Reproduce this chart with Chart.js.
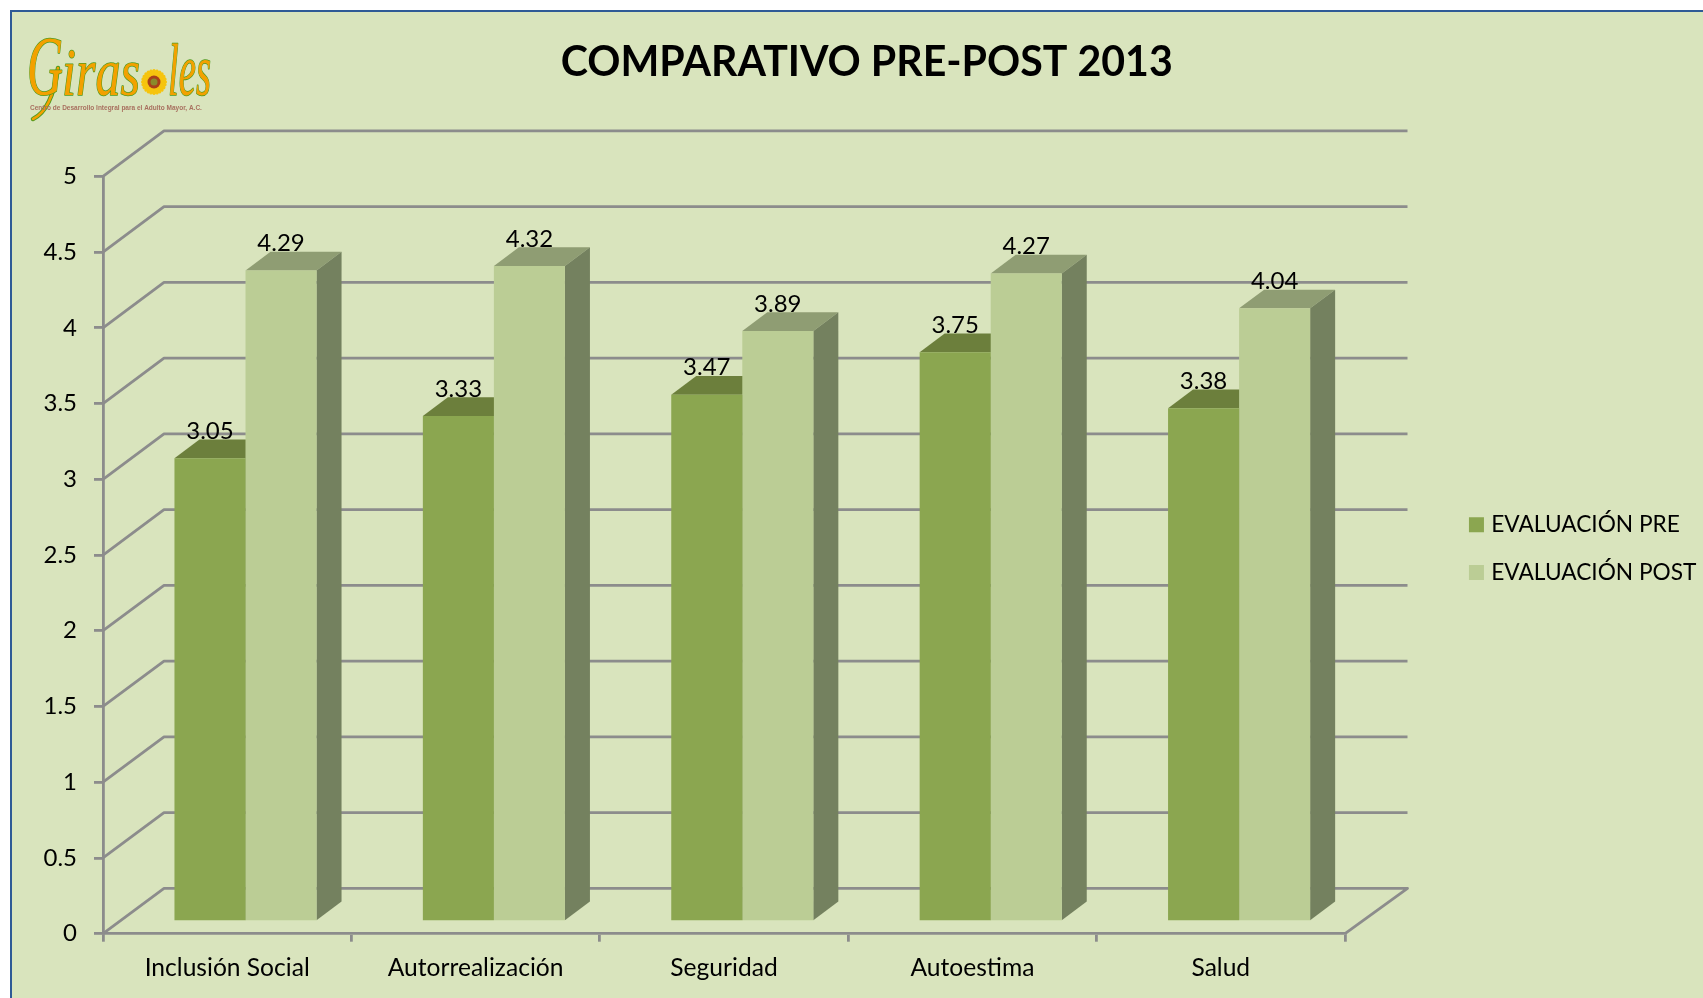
<!DOCTYPE html>
<html>
<head>
<meta charset="utf-8">
<title>Comparativo Pre-Post 2013</title>
<script src="https://cdn.jsdelivr.net/npm/chart.js@4"></script>
<style>
  html, body { margin: 0; padding: 0; background: #fff; overflow: hidden; }
  #frame { position: absolute; left: 10px; top: 10px; right: 0; bottom: 0; background: #d9e4bd; border-left: 2px solid #2f5a96; border-top: 2px solid #2f5a96; }
  #chart { position: absolute; left: 0; top: 0; }
</style>
</head>
<body>
<div id="frame"></div>
<canvas id="chart" width="1703" height="998"></canvas>
<script>
// Chart data
const categories = ['Inclusión Social', 'Autorrealización', 'Seguridad', 'Autoestima', 'Salud'];
const preValues = [3.05, 3.33, 3.47, 3.75, 3.38];
const postValues = [4.29, 4.32, 3.89, 4.27, 4.04];
const seriesNames = ['EVALUACIÓN PRE', 'EVALUACIÓN POST'];
const yTickValues = [0, 0.5, 1, 1.5, 2, 2.5, 3, 3.5, 4, 4.5, 5];

const FONT = 'Lato';
const GRID = '#8c8c8c';
const WALL_DX = 61, WALL_DY = -45.4;     // back wall depth
const BAR_DX = 18.3, BAR_DY = -13.4;     // bars stand inside the floor
const DEPTH_DX = 25, DEPTH_DY = -18.7;   // bar depth

// top and side colours for each series
const faces = [
  { top: '#6c7f3c', side: '#6c7f3c' },
  { top: '#8f9d73', side: '#74815f' }
];

function poly(ctx, pts, color) {
  ctx.fillStyle = color;
  ctx.beginPath();
  pts.forEach((p, i) => i ? ctx.lineTo(p[0], p[1]) : ctx.moveTo(p[0], p[1]));
  ctx.closePath();
  ctx.fill();
}

// Gridlines on the left wall and back wall, plus the floor
const wallsPlugin = {
  id: 'walls',
  beforeDatasetsDraw(chart) {
    const { ctx, chartArea: area, scales: { y } } = chart;
    ctx.save();
    ctx.strokeStyle = GRID;
    ctx.lineWidth = 2.8;
    ctx.lineJoin = 'round';
    yTickValues.forEach(v => {
      const py = y.getPixelForValue(v);
      ctx.beginPath();
      ctx.moveTo(area.left, py);
      ctx.lineTo(area.left + WALL_DX, py + WALL_DY);
      ctx.lineTo(area.right + WALL_DX + 1.5, py + WALL_DY);
      if (v === 0) ctx.lineTo(area.right, py);
      ctx.stroke();
    });
    ctx.restore();
    // bars get moved back from the axis front edge
    ctx.save();
    ctx.translate(BAR_DX, BAR_DY);
    // top and side of each bar go first, the library then paints the fronts over them
    faces.forEach((face, i) => {
      chart.getDatasetMeta(i).data.forEach(bar => {
        const l = bar.x - bar.width / 2, r = bar.x + bar.width / 2;
        poly(ctx, [[l, bar.y], [r, bar.y], [r + DEPTH_DX, bar.y + DEPTH_DY], [l + DEPTH_DX, bar.y + DEPTH_DY]], face.top);
        poly(ctx, [[r, bar.y], [r, bar.base], [r + DEPTH_DX, bar.base + DEPTH_DY], [r + DEPTH_DX, bar.y + DEPTH_DY]], face.side);
      });
    });
  },
  afterDatasetsDraw(chart) {
    const { ctx } = chart;
    ctx.restore();
    // value labels
    ctx.save();
    ctx.font = '24px ' + FONT;
    ctx.fillStyle = '#000';
    ctx.textAlign = 'center';
    ctx.textBaseline = 'middle';
    chart.data.datasets.forEach((ds, i) => {
      chart.getDatasetMeta(i).data.forEach((bar, j) => {
        ctx.fillText(ds.data[j].toFixed(2), bar.x + BAR_DX, bar.y + BAR_DY - 27);
      });
    });
    ctx.restore();
  },
  // legend and title are not laid out by the chart, put them where they go
  afterLayout(chart) {
    const legend = chart.legend;
    legend.left = 1448;
    legend.right = 1703;
    legend.top = 488.5;
    legend.bottom = 998;
    legend.adjustHitBoxes();
    chart.titleBlock.left = 466.7;
    chart.titleBlock.right = 1266.7;
  }
};

// Girasoles logo, top left
const logoPlugin = {
  id: 'logo',
  afterDraw(chart) {
    const { ctx } = chart;
    ctx.save();
    ctx.lineJoin = 'round';
    ctx.lineCap = 'round';
    const word = (text, x, y, size, maxW) => {
      ctx.font = 'italic ' + size + 'px "Liberation Serif"';
      ctx.lineWidth = 1.5;
      ctx.strokeStyle = '#4f9a1e';
      ctx.strokeText(text, x, y, maxW);
      ctx.fillStyle = '#f2a100';
      ctx.fillText(text, x, y, maxW);
    };
    // tail of the G
    ctx.beginPath();
    ctx.moveTo(58, 68);
    ctx.quadraticCurveTo(52, 110, 33, 119);
    ctx.strokeStyle = '#4f9a1e';
    ctx.lineWidth = 4.5;
    ctx.stroke();
    ctx.strokeStyle = '#f2a100';
    ctx.lineWidth = 2.5;
    ctx.stroke();
    word('G', 27, 95, 85, 36);
    word('iras', 62, 95, 68, 78);
    word('les', 168, 95, 74, 43);
    // sunflower
    const fx = 154, fy = 82;
    ctx.fillStyle = '#f6c40e';
    for (let i = 0; i < 24; i++) {
      const a = i * Math.PI / 12;
      ctx.beginPath();
      ctx.ellipse(fx + Math.cos(a) * 8.5, fy + Math.sin(a) * 8.5, 4.5, 2.2, a, 0, 2 * Math.PI);
      ctx.fill();
    }
    ctx.fillStyle = '#a8401a';
    ctx.beginPath(); ctx.arc(fx, fy, 6.5, 0, 2 * Math.PI); ctx.fill();
    ctx.fillStyle = '#8a8a2a';
    ctx.beginPath(); ctx.arc(fx, fy, 3.5, 0, 2 * Math.PI); ctx.fill();
    // tagline
    ctx.font = 'bold 6.5px "Liberation Sans"';
    ctx.fillStyle = '#a8705f';
    ctx.textBaseline = 'middle';
    ctx.fillText('Centro de Desarrollo Integral para el Adulto Mayor, A.C.', 30, 108, 177);
    ctx.restore();
  }
};

const ctx = document.getElementById('chart').getContext('2d');
new Chart(ctx, {
  type: 'bar',
  data: {
    labels: categories,
    datasets: [{
      label: seriesNames[0],
      data: preValues,
      backgroundColor: '#8ba650',
      base: -0.0001, // keeps the library from trimming the bar by half the axis line
      clip: false
    }, {
      label: seriesNames[1],
      data: postValues,
      backgroundColor: '#bbcd95',
      base: -0.0001,
      clip: false
    }]
  },
  options: {
    responsive: false,
    animation: false,
    categoryPercentage: 0.572,
    barPercentage: 1,
    layout: { padding: { left: 0, right: 358, top: 10, bottom: 0 } },
    plugins: {
      title: {
        display: true,
        text: 'COMPARATIVO PRE-POST 2013',
        color: '#000',
        font: { family: FONT, size: 41.1, weight: 'bold', lineHeight: 1.2 },
        padding: { top: 28, bottom: 89 }
      },
      legend: {
        position: 'chartArea',
        align: 'start',
        labels: {
          color: '#000',
          font: { family: FONT, size: 22.7 },
          usePointStyle: true,
          pointStyle: 'rect',
          boxWidth: 6.9,
          boxHeight: 15,
          padding: 25
        }
      },
      tooltip: { enabled: false }
    },
    scales: {
      x: {
        afterFit: s => { s.height = 64.3; },
        grid: { drawOnChartArea: false, color: GRID, lineWidth: 2.8, tickLength: 8 },
        border: { color: GRID, width: 2.8 },
        ticks: { color: '#000', font: { family: FONT, size: 24.6 }, padding: 12, maxRotation: 0 }
      },
      y: {
        min: 0,
        max: 5,
        afterFit: s => { s.width = 103; },
        afterBuildTicks: s => { s.ticks = yTickValues.map(v => ({ value: v })); },
        grid: { drawOnChartArea: false, color: GRID, lineWidth: 2.8, tickLength: 9 },
        border: { color: GRID, width: 2.8 },
        ticks: { color: '#000', font: { family: FONT, size: 24 }, padding: 17, callback: v => String(v) }
      }
    }
  },
  plugins: [wallsPlugin, logoPlugin]
});
</script>
</body>
</html>
